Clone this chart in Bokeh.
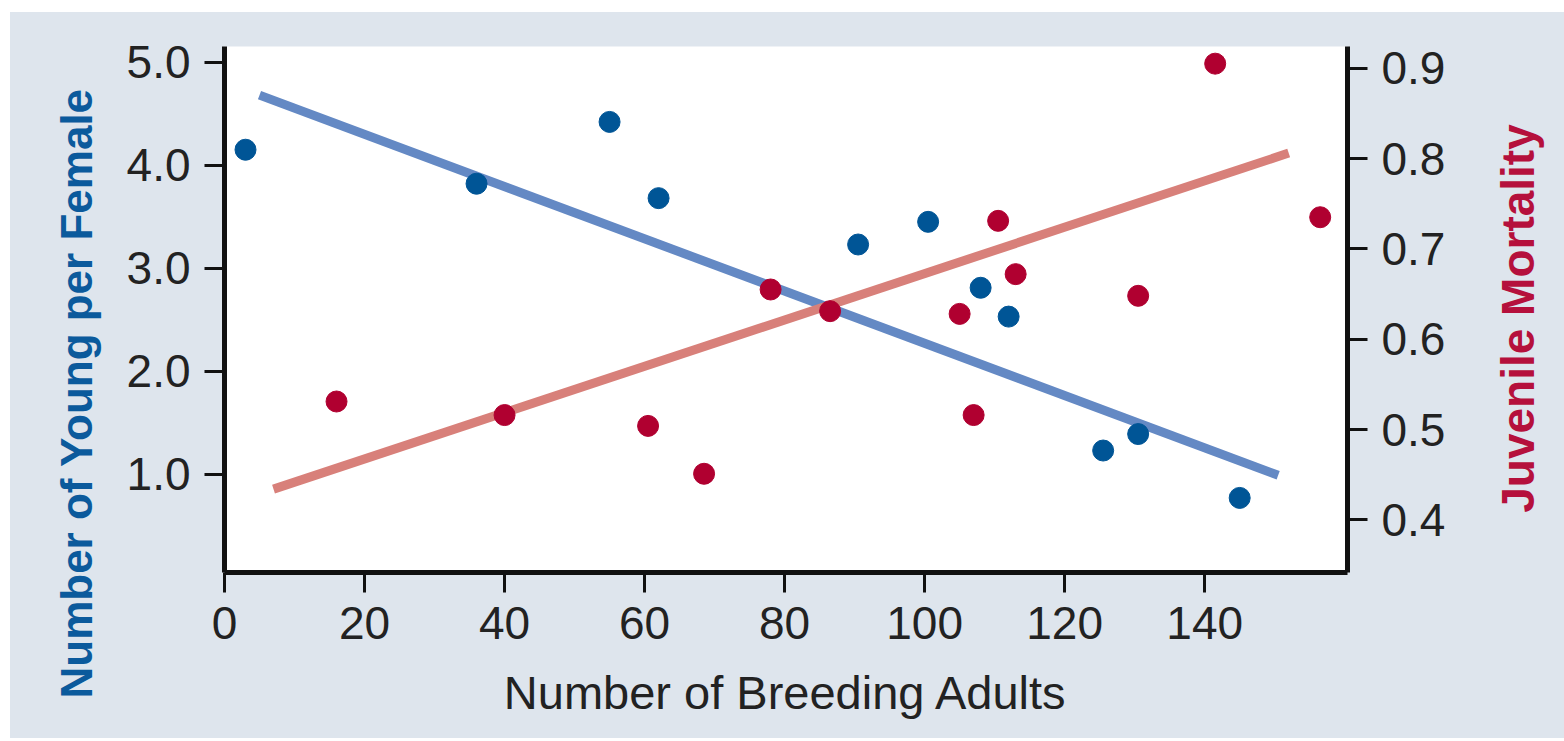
import math
from bokeh.plotting import figure
from bokeh.layouts import row
from bokeh.models import Range1d, LinearAxis, FixedTicker, PrintfTickFormatter, Title
from bokeh.core.properties import value
from bokeh.embed import file_html
from bokeh.resources import INLINE

# Breeding adults vs. number of young per female (blue)
adults_young = [3, 36, 55, 62, 90.5, 100.5, 108, 112, 125.5, 130.5, 145]
young_per_female = [4.15, 3.82, 4.42, 3.68, 3.23, 3.45, 2.81, 2.53, 1.23, 1.39, 0.77]

# Breeding adults vs. juvenile mortality (red)
adults_mortality = [16, 40, 60.5, 68.5, 78, 86.5, 105, 107, 110.5, 113, 130.5, 141.5, 156.5]
juvenile_mortality = [0.531, 0.516, 0.504, 0.451, 0.655, 0.631, 0.628, 0.516, 0.731, 0.672, 0.648, 0.905, 0.735]

# Trend line end points
trend_young_x = [5, 150.5]
trend_young_y = [4.68, 0.99]
trend_mortality_x = [7, 152]
trend_mortality_y = [0.434, 0.806]

# Tick values
x_ticks = [0, 20, 40, 60, 80, 100, 120, 140]
young_ticks = [1.0, 2.0, 3.0, 4.0, 5.0]
mortality_ticks = [0.4, 0.5, 0.6, 0.7, 0.8, 0.9]

PANEL = "#dee5ed"
BLUE_DOT = "#005596"
BLUE_LINE = "#6489c4"
RED_DOT = "#b00030"
RED_LINE = "#d8807a"
FONT = "Liberation Sans"
TICK_SIZE = "46px"

BORDER_TOP, BORDER_BOTTOM = 34, 166
FRAME_H = 526

p = figure(
    frame_width=1123, frame_height=FRAME_H,
    min_border_left=214, min_border_right=130,
    min_border_top=BORDER_TOP, min_border_bottom=BORDER_BOTTOM,
    x_range=Range1d(0, 160.4), y_range=Range1d(0.046, 5.152),
    output_backend="svg", toolbar_location=None,
    background_fill_color="white", border_fill_color=PANEL,
    outline_line_color=None,
)
p.extra_y_ranges = {"mort": Range1d(0.3417, 0.924)}
p.grid.visible = False

right_axis = LinearAxis(y_range_name="mort")
p.add_layout(right_axis, "right")

p.xaxis.ticker = FixedTicker(ticks=x_ticks)
p.yaxis[0].ticker = FixedTicker(ticks=young_ticks)
p.yaxis[0].formatter = PrintfTickFormatter(format="%.1f")
right_axis.ticker = FixedTicker(ticks=mortality_ticks)
right_axis.formatter = PrintfTickFormatter(format="%.1f")

for ax in [p.xaxis[0], p.yaxis[0], right_axis]:
    ax.axis_line_width = 5
    ax.axis_line_color = "#111111"
    ax.major_tick_line_width = 3
    ax.major_tick_line_color = "#111111"
    ax.major_tick_in = 0
    ax.major_tick_out = 20
    ax.minor_tick_line_color = None
    ax.major_label_text_font = FONT
    ax.major_label_text_font_size = TICK_SIZE
    ax.major_label_text_color = "#222222"
    ax.major_label_standoff = 14

# Axis titles
p.xaxis.axis_label = "Number of Breeding Adults"
p.xaxis.axis_label_text_font = FONT
p.xaxis.axis_label_text_font_size = "47px"
p.xaxis.axis_label_text_font_style = "normal"
p.xaxis.axis_label_text_color = "#222222"
p.xaxis.axis_label_standoff = 24

p.add_layout(Title(text="Number of Young per Female", align="left", offset=-126,
                   standoff=46, text_font=FONT, text_font_size="44px",
                   text_font_style="bold", text_color="#0b5a9c"), "left")

# Trend lines
p.line(trend_young_x, trend_young_y, line_color=BLUE_LINE, line_width=9)
p.line(trend_mortality_x, trend_mortality_y, line_color=RED_LINE, line_width=9,
       y_range_name="mort")

# Observations
p.scatter(adults_young, young_per_female, size=21, color=BLUE_DOT)
p.scatter(adults_mortality, juvenile_mortality, size=21, color=RED_DOT,
          y_range_name="mort")

# Narrow strip on the right carrying the bottom-to-top mortality title;
# its y range runs in pixels from the frame's bottom edge to its top edge
strip_w = 1554 - (214 + 1123 + 130)
strip = figure(
    frame_width=strip_w, frame_height=FRAME_H,
    min_border_left=0, min_border_right=0,
    min_border_top=BORDER_TOP, min_border_bottom=BORDER_BOTTOM,
    x_range=Range1d(0, strip_w), y_range=Range1d(FRAME_H, 0),
    output_backend="svg", toolbar_location=None,
    background_fill_color=PANEL, border_fill_color=PANEL,
    outline_line_color=None,
)
strip.axis.visible = False
strip.grid.visible = False
strip.text(x=[40], y=[272], text=["Juvenile Mortality"], angle=math.pi / 2,
           text_align="center", text_baseline="middle",
           text_font=value(FONT), text_font_style="bold",
           text_font_size="46px", text_color="#b5103c")

layout = row(p, strip, spacing=0, margin=(12, 0, 3, 10),
             styles={"background-color": PANEL})
open("out.html", "w").write(file_html(layout, INLINE))
